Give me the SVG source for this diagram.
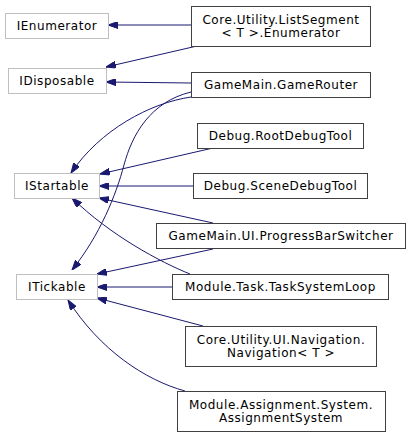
<svg xmlns="http://www.w3.org/2000/svg" width="411" height="437" viewBox="0 0 411 437">
<style>
.n rect{fill:#fff;stroke:#404040;stroke-width:1}
.x rect{fill:#fff;stroke:#bfbfbf;stroke-width:1}
text{font-family:"DejaVu Sans",sans-serif;font-size:12px;letter-spacing:0.55px;fill:#000;text-anchor:middle}
.e path{fill:none;stroke:#191970;stroke-width:1;marker-end:url(#a)}
</style>
<defs>
<marker id="a" viewBox="0 0 10 7" refX="10" refY="3.5" markerWidth="10" markerHeight="7" markerUnits="userSpaceOnUse" orient="auto">
<path d="M0,0 L10,3.5 L0,7 Z" fill="#191970" stroke="#191970" stroke-width="1"/>
</marker>
</defs>
<rect width="411" height="437" fill="#fff"/>
<g class="e" id="edges">
<path d="M191,25 L108,25"/>
<path d="M197,46 L106,67"/>
<path d="M191,83 L106,82"/>
<path d="M191,97 C150,103 100,130 71,173"/>
<path d="M191,92 C150,102 132,135 124,165 C116,195 100,235 72,270"/>
<path d="M213,148 L100,174"/>
<path d="M193,186 L99,186"/>
<path d="M213,223 L99,198"/>
<path d="M190,274 C160,262 110,235 72,198"/>
<path d="M213,249 L97,274"/>
<path d="M172,287 L97,287"/>
<path d="M203,326 L97,298"/>
<path d="M185,391 C145,380 100,350 68,300"/>
</g>
<g id="IEnumerator" class="x"><rect x="5.5" y="13.5" width="103" height="25"/><text x="57" y="30">IEnumerator</text></g>
<g id="ListSegmentEnumerator" class="n"><rect x="191.5" y="6.5" width="179" height="40"/><text x="281" y="23.5">Core.Utility.ListSegment</text><text x="281" y="36.5">&lt; T &gt;.Enumerator</text></g>
<g id="IDisposable" class="x"><rect x="8.5" y="68.5" width="98" height="25"/><text x="57" y="85">IDisposable</text></g>
<g id="GameRouter" class="n"><rect x="191.5" y="72.5" width="179" height="25"/><text x="281" y="89">GameMain.GameRouter</text></g>
<g id="RootDebugTool" class="n"><rect x="197.5" y="123.5" width="166" height="25"/><text x="280.5" y="140">Debug.RootDebugTool</text></g>
<g id="IStartable" class="x"><rect x="14.5" y="173.5" width="85" height="25"/><text x="57" y="190">IStartable</text></g>
<g id="SceneDebugTool" class="n"><rect x="193.5" y="173.5" width="174" height="25"/><text x="280.5" y="190">Debug.SceneDebugTool</text></g>
<g id="ProgressBarSwitcher" class="n"><rect x="156.5" y="223.5" width="249" height="25"/><text x="281" y="240">GameMain.UI.ProgressBarSwitcher</text></g>
<g id="ITickable" class="x"><rect x="16.5" y="274.5" width="81" height="25"/><text x="57" y="291">ITickable</text></g>
<g id="TaskSystemLoop" class="n"><rect x="172.5" y="274.5" width="216" height="25"/><text x="280.5" y="291">Module.Task.TaskSystemLoop</text></g>
<g id="Navigation" class="n"><rect x="185.5" y="326.5" width="191" height="40"/><text x="281" y="343.5">Core.Utility.UI.Navigation.</text><text x="281" y="356.5">Navigation&lt; T &gt;</text></g>
<g id="AssignmentSystem" class="n"><rect x="177.5" y="391.5" width="208" height="40"/><text x="281" y="408.5">Module.Assignment.System.</text><text x="281" y="421.5">AssignmentSystem</text></g>
</svg>
